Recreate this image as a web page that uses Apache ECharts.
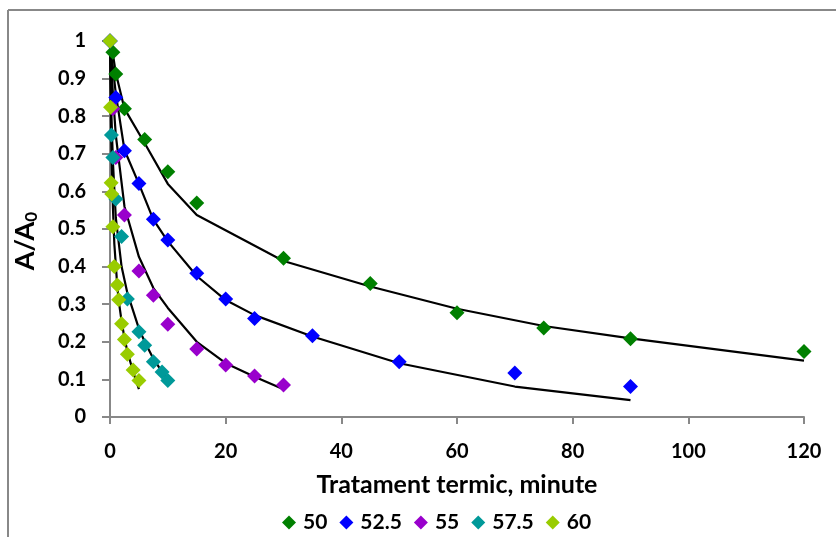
<!DOCTYPE html>
<html>
<head>
<meta charset="utf-8">
<script src="https://cdn.jsdelivr.net/npm/echarts@6/dist/echarts.min.js"></script>
<style>
html,body{margin:0;padding:0;background:#fff;}
#c{width:836px;height:537px;}
</style>
</head>
<body>
<div id="c"></div>
<script>
// Series names (temperatures)
const names = ['50', '52.5', '55', '57.5', '60'];
const colors = ['#008000', '#0000FF', '#9900CC', '#009999', '#99CC00'];

// Measured points
const x50 = [0, 0.5, 1, 2.5, 6, 10, 15, 30, 45, 60, 75, 90, 120];
const y50 = [1, 0.97, 0.912, 0.82, 0.738, 0.652, 0.569, 0.422, 0.355, 0.277, 0.237, 0.208, 0.174];
const fit50 = [1, 0.965, 0.915, 0.82, 0.728, 0.62, 0.537, 0.415, 0.347, 0.288, 0.242, 0.209, 0.150];

const x52 = [0, 1, 2.5, 5, 7.5, 10, 15, 20, 25, 35, 50, 70, 90];
const y52 = [1, 0.85, 0.708, 0.621, 0.526, 0.471, 0.382, 0.314, 0.262, 0.216, 0.147, 0.117, 0.081];
const fit52 = [1, 0.86, 0.71, 0.62, 0.525, 0.467, 0.375, 0.311, 0.271, 0.214, 0.143, 0.081, 0.045];

const x55 = [0, 0.5, 1, 2.5, 5, 7.5, 10, 15, 20, 25, 30];
const y55 = [1, 0.82, 0.69, 0.537, 0.388, 0.324, 0.247, 0.181, 0.138, 0.109, 0.085];
const fit55 = [1, 0.86, 0.75, 0.56, 0.426, 0.343, 0.29, 0.2, 0.143, 0.107, 0.074];

const x57 = [0, 0.25, 0.5, 1, 2, 3, 5, 6, 7.5, 9, 10];
const y57 = [1, 0.75, 0.69, 0.58, 0.48, 0.314, 0.227, 0.191, 0.147, 0.12, 0.097];
const fit57 = [1, 0.8, 0.68, 0.53, 0.4, 0.33, 0.235, 0.2, 0.155, 0.12, 0.1];

const x60 = [0, 0.1, 0.2, 0.3, 0.5, 0.75, 1.25, 1.5, 2, 2.5, 3, 4, 5];
const y60 = [1, 0.824, 0.623, 0.593, 0.506, 0.40, 0.351, 0.312, 0.248, 0.206, 0.167, 0.125, 0.097];
const fit60 = [1, 0.86, 0.75, 0.67, 0.56, 0.46, 0.35, 0.31, 0.255, 0.21, 0.175, 0.12, 0.074];

const xs = [x50, x52, x55, x57, x60];
const ys = [y50, y52, y55, y57, y60];
const fits = [fit50, fit52, fit55, fit57, fit60];

const xTicks = [0, 20, 40, 60, 80, 100, 120];
const yTicks = [0, 0.1, 0.2, 0.3, 0.4, 0.5, 0.6, 0.7, 0.8, 0.9, 1];

const FONT = 'Lato, "Open Sans", sans-serif';
const pair = (a, b) => a.map((v, i) => [v, b[i]]);

const series = [];
for (let i = 0; i < 5; i++) {
  series.push({
    name: 'fit' + names[i],
    type: 'line',
    data: pair(xs[i], fits[i]),
    showSymbol: false,
    symbol: 'none',
    lineStyle: { color: '#000', width: 2.2 },
    z: 2,
    silent: true
  });
}
for (let i = 0; i < 5; i++) {
  series.push({
    name: names[i],
    type: 'scatter',
    data: pair(xs[i], ys[i]),
    symbol: 'diamond',
    symbolSize: 15,
    itemStyle: { color: colors[i], opacity: 1 },
    z: 3 + i
  });
}

const chart = echarts.init(document.getElementById('c'), null, { renderer: 'canvas' });
chart.setOption({
  animation: false,
  backgroundColor: '#fff',
  grid: { left: 110, right: 32, top: 41, bottom: 120 },
  legend: {
    data: names.map((n, i) => ({ name: n, icon: 'diamond', itemStyle: { color: colors[i] } })),
    top: 507,
    left: 277,
    itemWidth: 14,
    itemHeight: 14,
    itemGap: 12,
    textStyle: { fontFamily: FONT, fontWeight: 'bold', fontSize: 21, color: '#000', padding: [0, 0, 0, 2] }
  },
  xAxis: {
    type: 'value',
    min: xTicks[0],
    max: xTicks[xTicks.length - 1],
    interval: xTicks[1] - xTicks[0],
    name: 'Tratament termic, minute',
    nameLocation: 'middle',
    nameGap: 55,
    nameTextStyle: { fontFamily: FONT, fontWeight: 'bold', fontSize: 25, color: '#000' },
    axisLine: { lineStyle: { color: '#888', width: 2 } },
    axisTick: { show: true, length: 7, lineStyle: { color: '#888', width: 2 } },
    axisLabel: { margin: 25, fontFamily: FONT, fontWeight: 'bold', fontSize: 20, color: '#000' },
    splitLine: { show: false }
  },
  yAxis: {
    type: 'value',
    min: yTicks[0],
    max: yTicks[yTicks.length - 1],
    interval: 0.1,
    name: 'A/A{sub|0}',
    nameLocation: 'middle',
    nameGap: 70,
    nameRotate: 90,
    nameTextStyle: {
      fontFamily: FONT, fontWeight: 'bold', fontSize: 27, color: '#000',
      padding: [0, 24, 0, 0],
      rich: { sub: { fontFamily: FONT, fontWeight: 'bold', fontSize: 17, color: '#000', verticalAlign: 'bottom', padding: [12, 0, 0, 0] } }
    },
    axisLine: { show: true, lineStyle: { color: '#888', width: 2 } },
    axisTick: { show: true, length: 8, lineStyle: { color: '#888', width: 2 } },
    axisLabel: {
      margin: 24, fontFamily: FONT, fontWeight: 'bold', fontSize: 20, color: '#000',
      formatter: v => String(Math.round(v * 10) / 10)
    },
    splitLine: { show: false }
  },
  graphic: [
    { type: 'line', shape: { x1: 8, y1: 10, x2: 8, y2: 537 }, style: { stroke: '#888', lineWidth: 2 } },
    { type: 'line', shape: { x1: 8, y1: 10, x2: 836, y2: 10 }, style: { stroke: '#888', lineWidth: 2 } }
  ],
  series: series
});
</script>
</body>
</html>
